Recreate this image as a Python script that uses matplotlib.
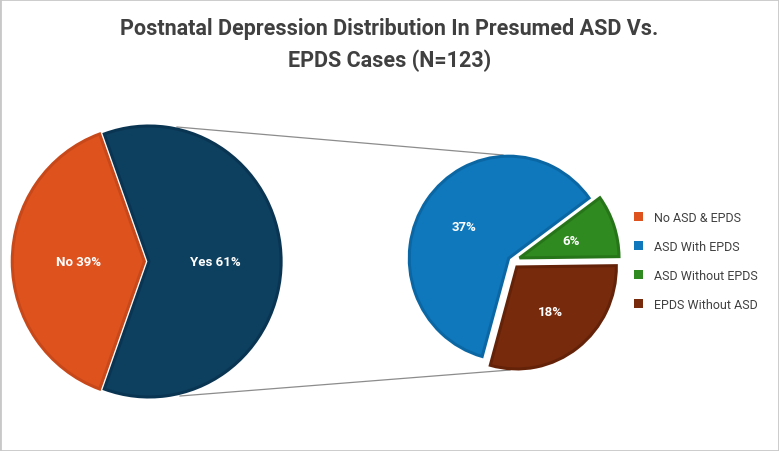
import matplotlib.pyplot as plt
from matplotlib.patches import Patch, Rectangle

# data
main_labels = ['No', 'Yes']
main_values = [39, 61]
sub_labels = ['ASD With EPDS', 'ASD Without EPDS', 'EPDS Without ASD']
sub_values = [37, 6, 18]
legend_labels = ['No ASD & EPDS', 'ASD With EPDS', 'ASD Without EPDS', 'EPDS Without ASD']

main_colors = ['#DE521E', '#0D3F5F']
main_edges = ['#C8481A', '#0A3552']
sub_colors = ['#0F78BD', '#2F8A1F', '#772A0C']
sub_edges = ['#0B67A4', '#277519', '#642209']
legend_colors = ['#DE521E', '#0F78BD', '#2F8A1F', '#772A0C']

W, H = 779, 452
SX = 0.975  # the original pies are a little squashed sideways


def px(x, y):
    # image pixel -> data coords
    return (x / SX, H - y)


fig = plt.figure(figsize=(W / 100, H / 100), dpi=100)
ax = fig.add_axes([0, 0, 1, 1])

# left pie (explode is in data units, not a fraction of the radius)
r1 = 135.5
w1, t1, a1 = ax.pie(main_values, colors=main_colors, startangle=109.8,
                    explode=[0.035 * r1, 0], radius=r1, center=px(149, 262.5),
                    autopct='%.0f%%', pctdistance=0.5,
                    wedgeprops=dict(linewidth=2.2), frame=True)
for w, ec in zip(w1, main_edges):
    w.set_edgecolor(ec)
for t, name in zip(a1, main_labels):
    t.set_text(name + ' ' + t.get_text())

# right pie (breakdown of "Yes")
r2 = 102
tot = sum(sub_values)
w2, t2, a2 = ax.pie(sub_values, colors=sub_colors, startangle=254.5, counterclock=False,
                    explode=[0.04 * r2, 0.08 * r2, 0.08 * r2], radius=r2, center=px(512, 261.5),
                    autopct=lambda p: '{:.0f}%'.format(p * tot / 100), pctdistance=0.55,
                    wedgeprops=dict(linewidth=2.2), frame=True)
for w, ec in zip(w2, sub_edges):
    w.set_edgecolor(ec)

for t in list(a1) + list(a2):
    t.set_color('white')
    t.set_fontsize(9.5)
    t.set_fontweight('bold')
    t.set_family('Roboto')

# connector lines
for (x0, y0), (x1, y1) in [((177, 128), (503, 156)), ((180, 397), (510, 371))]:
    p0, p1 = px(x0, y0), px(x1, y1)
    ax.plot([p0[0], p1[0]], [p0[1], p1[1]], color='#8C8C8C', lw=0.9, zorder=0)

ax.set_xlim(0, W / SX)
ax.set_ylim(0, H)
ax.set_aspect('auto')
ax.axis('off')

handles = [Patch(facecolor=c, edgecolor='none') for c in legend_colors]
fig.legend(handles, legend_labels, loc='center left', bbox_to_anchor=(0.8, 0.42),
           frameon=False, handlelength=0.7, handleheight=0.7, handletextpad=0.9,
           labelspacing=1.28, prop=dict(family='Roboto', size=9), labelcolor='#404040')

fig.text(0.5, 1 - 45 / H, 'Postnatal Depression Distribution In Presumed ASD Vs.\nEPDS Cases (N=123)',
         ha='center', va='center', fontsize=15.5, fontweight='bold', family='Roboto',
         color='#404040', linespacing=1.5)

fig.add_artist(Rectangle((0, 0), 1, 1, transform=fig.transFigure, fill=False,
                         edgecolor='#C8C8C8', lw=2))

fig.savefig('out.png', dpi=100)
